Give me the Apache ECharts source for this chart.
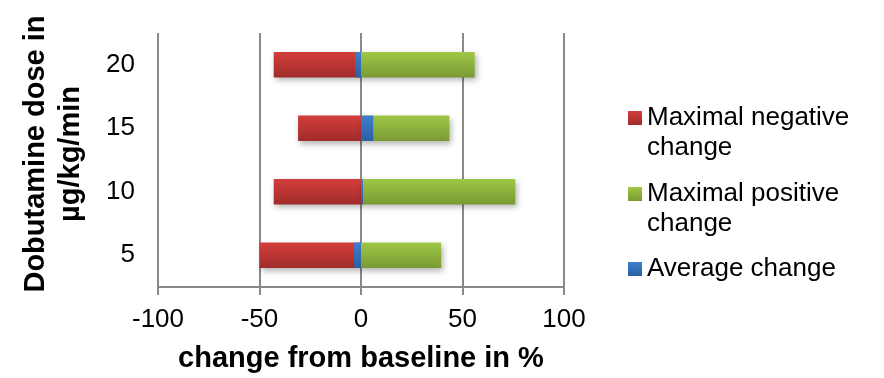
<!DOCTYPE html>
<html><head><meta charset="utf-8">
<script src="https://cdn.jsdelivr.net/npm/echarts@6/dist/echarts.min.js"></script>
<style>html,body{margin:0;padding:0;background:#fff}#c{width:884px;height:378px}</style>
</head><body><div id="c"></div>
<script>
var categories = ['5', '10', '15', '20'];
var maxNegative = [-50, -43, -31, -43];
var maxPositive = [39.5, 76, 43.5, 56];
var averageChange = [-3.4, 1, 6, -2.8];
var xTicks = [-100, -50, 0, 50, 100];

function grad(top, bottom) {
  return new echarts.graphic.LinearGradient(0, 0, 0, 1, [
    {offset: 0, color: top}, {offset: 1, color: bottom}
  ]);
}
var red = grad('#d33e3b', '#a02c2b');
var green = grad('#9fc746', '#799a33');
var blue = grad('#3e7fcf', '#2c5ea3');
var font = '"Liberation Sans", Arial, sans-serif';
var gridColor = '#898989';

var chart = echarts.init(document.getElementById('c'));
function legendFor(name, color, top) {
  return {
    data: [{name: name, itemStyle: {color: color}}],
    left: 628, top: top, orient: 'vertical', padding: 0,
    itemWidth: 14, itemHeight: 14, itemGap: 6,
    icon: 'rect',
    textStyle: {fontFamily: font, fontSize: 26, color: '#000', lineHeight: 30},
    formatter: function (n) {
      if (n === 'Maximal negative change') return ' \nMaximal negative\nchange';
      if (n === 'Maximal positive change') return ' \nMaximal positive\nchange';
      return n;
    }
  };
}
chart.setOption({
  animation: false,
  backgroundColor: '#fff',
  grid: {left: 158, right: 320, top: 33, bottom: 91},
  legend: [
    legendFor('Maximal negative change', red, 73),
    legendFor('Maximal positive change', green, 149),
    legendFor('Average change', blue, 254)
  ],
  xAxis: {
    type: 'value', min: xTicks[0], max: xTicks[xTicks.length - 1], interval: 50,
    name: 'change from baseline in %', nameLocation: 'middle', nameGap: 57,
    nameTextStyle: {fontFamily: font, fontSize: 29, fontWeight: 'bold', color: '#000'},
    axisLine: {show: true, lineStyle: {color: gridColor, width: 2}},
    axisTick: {show: true, length: 8, lineStyle: {color: gridColor, width: 2}},
    axisLabel: {fontFamily: font, fontSize: 26, color: '#000', margin: 20},
    splitLine: {show: true, lineStyle: {color: gridColor, width: 2}}
  },
  yAxis: {
    type: 'category', data: categories,
    name: 'Dobutamine dose in\nµg/kg/min', nameLocation: 'middle', nameGap: 70, nameRotate: 90,
    nameTextStyle: {fontFamily: font, fontSize: 29, fontWeight: 'bold', color: '#000', lineHeight: 35, padding: [0, 0, 0, 12]},
    axisLine: {show: false}, axisTick: {show: false},
    axisLabel: {fontFamily: font, fontSize: 26, color: '#000', margin: 23}
  },
  series: [
    {name: 'Maximal negative change', type: 'bar', data: maxNegative, barGap: '-100%', barCategoryGap: '60%',
     itemStyle: {color: red, shadowBlur: 6, shadowOffsetX: 2, shadowOffsetY: 3, shadowColor: 'rgba(0,0,0,0.3)'}},
    {name: 'Maximal positive change', type: 'bar', data: maxPositive, barGap: '-100%', barCategoryGap: '60%',
     itemStyle: {color: green, shadowBlur: 6, shadowOffsetX: 2, shadowOffsetY: 3, shadowColor: 'rgba(0,0,0,0.3)'}},
    {name: 'Average change', type: 'bar', data: averageChange, barGap: '-100%', barCategoryGap: '60%',
     itemStyle: {color: blue}}
  ]
});
</script></body></html>
